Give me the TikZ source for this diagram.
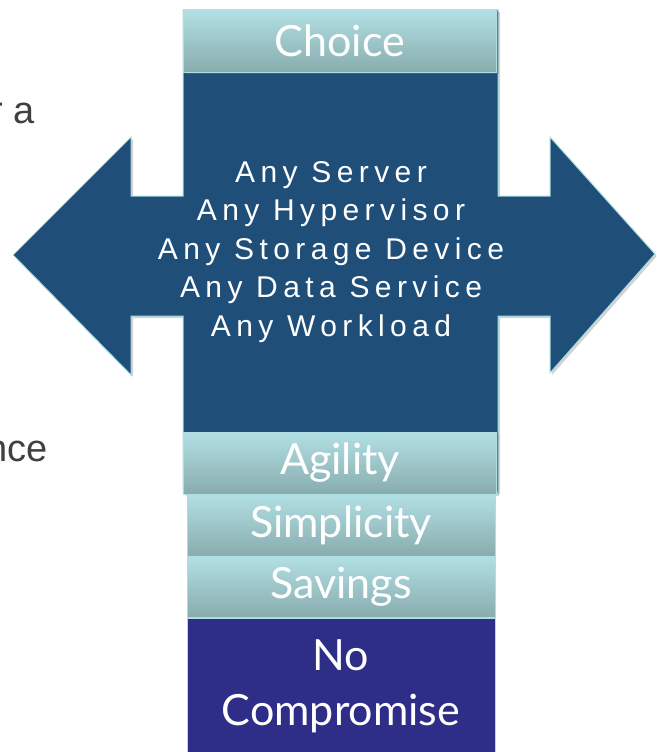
\documentclass[tikz,border=0pt]{standalone}
\usepackage{fontspec}
\setmainfont{Liberation Sans}
\newfontfamily\boxfont{Lato}
\newfontfamily\anyfont[LetterSpace=18]{Liberation Sans}
\usetikzlibrary{shadows}
\definecolor{navy}{RGB}{31,78,121}
\definecolor{tealtop}{RGB}{178,224,228}
\definecolor{tealbot}{RGB}{136,172,174}
\definecolor{edgecyan}{RGB}{172,222,226}
\definecolor{indigo}{RGB}{46,45,135}
\definecolor{fadedtext}{RGB}{64,64,64}
\begin{document}
\begin{tikzpicture}[x=1pt,y=-1pt]
	\tikzstyle{softshadow}=[drop shadow={opacity=0.35, shadow xshift=2pt, shadow yshift=-2pt}]
	\tikzstyle{tealbox}=[rectangle, inner sep=0pt, draw=edgecyan, line width=0.8pt, top color=tealtop, bottom color=tealbot, text=white, font=\boxfont\fontsize{43}{43}\selectfont]
	\useasboundingbox (0,0) rectangle (656,752);
	\clip (0,0) rectangle (656,752);
	
	% double arrow joined to the column
	\draw[fill=navy, draw=edgecyan, line width=1pt, softshadow]
	(183,10) -- (183,196) -- (131,196) -- (131,137) -- (13,255) -- (131,375) -- (131,316) -- (183,316)
	-- (183,492) -- (498,492) -- (498,316) -- (550,316) -- (550,373) -- (655,254) -- (550,137)
	-- (550,196) -- (498,196) -- (498,10) -- cycle;
	
	\draw 
	node[anchor=base east, text=fadedtext, font=\fontsize{38}{38}\selectfont](fragA)at(38,123){r a}
	node[anchor=base east, text=fadedtext, font=\fontsize{38}{38}\selectfont](fragB)at(51,461){nce}
	node[tealbox, softshadow, minimum width=313pt, minimum height=62pt](choice)at(340,41){Choice}
	node[text=white, align=center, font=\anyfont\fontsize{30}{38.5}\selectfont](any)at(331,252)
	{Any Server\\Any Hypervisor\\Any Storage Device\\Any Data Service\\Any Workload}
	node[tealbox, softshadow, minimum width=313pt, minimum height=62pt](agility)at(340,463){Agility}
	node[tealbox, minimum width=308pt, minimum height=62pt](simplicity)at(341,525){Simplicity}
	node[tealbox, minimum width=308pt, minimum height=61pt](savings)at(341,586.5){Savings}
	node[rectangle, draw=edgecyan, line width=0.8pt, fill=indigo, text=white, align=center,
	minimum width=308pt, minimum height=136pt, font=\boxfont\fontsize{43}{55}\selectfont](nocomp)at(341,686){No\\Compromise};
\end{tikzpicture}
\end{document}
